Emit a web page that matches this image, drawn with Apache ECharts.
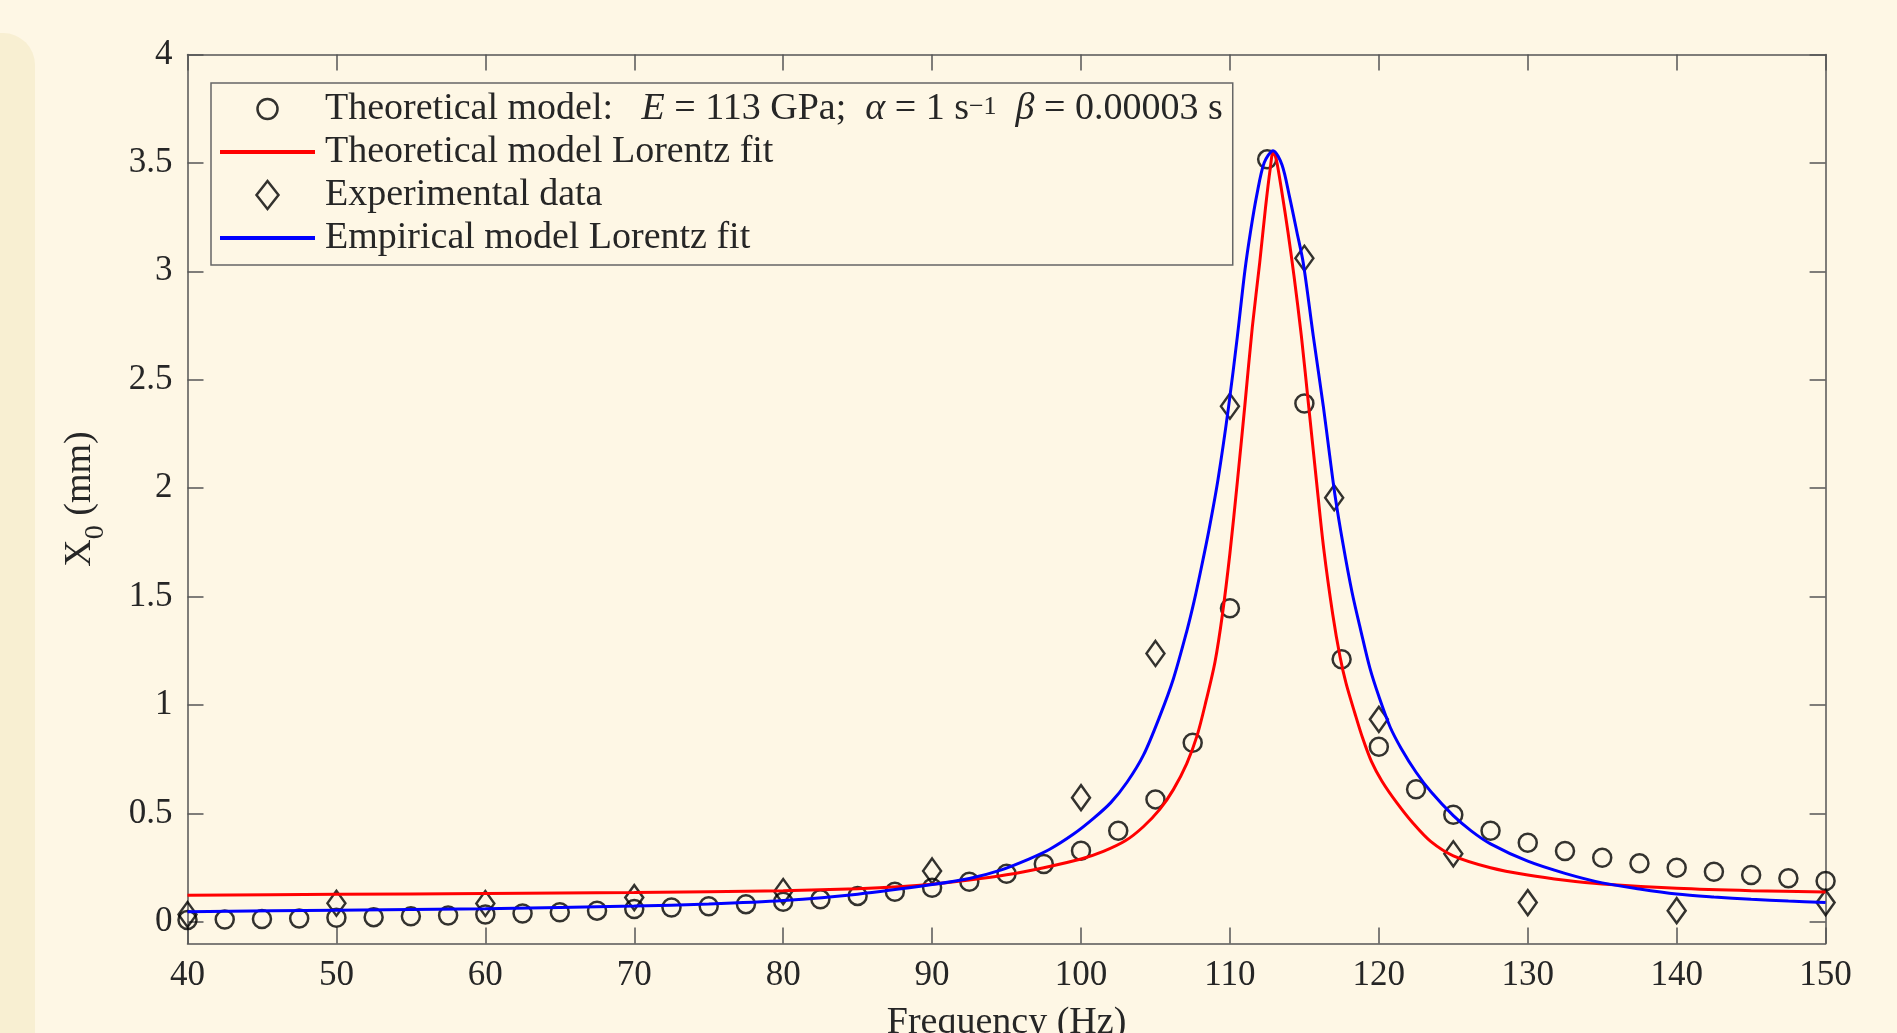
<!DOCTYPE html>
<html>
<head>
<meta charset="utf-8">
<script src="https://cdn.jsdelivr.net/npm/echarts@6/dist/echarts.min.js"></script>
<style>
html,body{margin:0;padding:0;background:#FEF7E5;}
#chart{width:1897px;height:1033px;}
</style>
</head>
<body>
<div id="chart"></div>
<script>
// ---- data ----
const xTicks = [40, 50, 60, 70, 80, 90, 100, 110, 120, 130, 140, 150];
const yTicks = [0, 0.5, 1, 1.5, 2, 2.5, 3, 3.5, 4];

const theoFreq = [40, 42.5, 45, 47.5, 50, 52.5, 55, 57.5, 60, 62.5, 65, 67.5, 70, 72.5, 75, 77.5, 80, 82.5, 85, 87.5, 90, 92.5, 95, 97.5, 100, 102.5, 105, 107.5, 110, 112.5, 115, 117.5, 120, 122.5, 125, 127.5, 130, 132.5, 135, 137.5, 140, 142.5, 145, 147.5, 150];
const theoAmp = [0.009, 0.011, 0.013, 0.016, 0.019, 0.022, 0.026, 0.03, 0.034, 0.039, 0.045, 0.052, 0.06, 0.066, 0.072, 0.082, 0.093, 0.104, 0.12, 0.139, 0.158, 0.185, 0.222, 0.267, 0.328, 0.42, 0.565, 0.826, 1.446, 3.516, 2.39, 1.211, 0.808, 0.612, 0.494, 0.42, 0.365, 0.327, 0.296, 0.27, 0.25, 0.231, 0.216, 0.201, 0.189];

const expFreq = [40, 50, 60, 70, 80, 90, 100, 105, 110, 115, 117, 120, 125, 130, 140, 150];
const expAmp = [0.034, 0.086, 0.085, 0.112, 0.14, 0.235, 0.573, 1.238, 2.378, 3.06, 1.956, 0.934, 0.314, 0.089, 0.052, 0.089];

const theoFitFreq = [40, 50, 60, 70, 80, 85, 88, 90, 92.5, 95, 97.5, 100, 101.5, 103, 104.2, 105.3, 106.2, 107.1, 107.8, 108.4, 109, 109.5, 110, 110.5, 111, 111.5, 112, 112.4, 112.7, 112.9, 113.1, 113.5, 113.9, 114.3, 114.8, 115.3, 115.8, 116.3, 116.9, 117.4, 117.8, 118.4, 118.9, 119.5, 120.2, 121.2, 122.3, 123.5, 125, 127.5, 130, 132.5, 135, 140, 145, 150];
const theoFitAmp = [0.123, 0.127, 0.131, 0.136, 0.144, 0.153, 0.163, 0.174, 0.193, 0.217, 0.25, 0.29, 0.325, 0.375, 0.44, 0.52, 0.61, 0.73, 0.86, 1.02, 1.2, 1.42, 1.7, 2.03, 2.38, 2.74, 3.04, 3.3, 3.47, 3.55, 3.52, 3.36, 3.18, 2.98, 2.7, 2.37, 2.04, 1.72, 1.42, 1.22, 1.1, 0.96, 0.85, 0.74, 0.65, 0.55, 0.455, 0.37, 0.305, 0.25, 0.216, 0.192, 0.175, 0.155, 0.144, 0.138];

const empFitFreq = [40, 50, 60, 70, 75, 80, 85, 90, 92.5, 94.6, 96.5, 97.9, 99.5, 100.8, 102, 103.1, 104.2, 105.3, 106.2, 107.1, 107.6, 108.1, 108.6, 109.2, 109.9, 110.5, 111, 111.4, 111.8, 112.3, 112.9, 113.5, 114, 114.5, 114.93, 115.6, 116.27, 116.7, 117.05, 117.6, 118.2, 118.8, 119.4, 120, 120.75, 121.5, 122.5, 123.5, 125, 126.2, 127.5, 130, 132.5, 135, 137.5, 140, 142.5, 145, 147.5, 150];
const empFitAmp = [0.047, 0.054, 0.061, 0.073, 0.083, 0.099, 0.128, 0.172, 0.2, 0.239, 0.29, 0.335, 0.405, 0.475, 0.55, 0.645, 0.77, 0.95, 1.12, 1.34, 1.48, 1.64, 1.81, 2.04, 2.37, 2.7, 3.0, 3.19, 3.35, 3.5, 3.556, 3.49, 3.344, 3.18, 3.036, 2.7, 2.378, 2.15, 1.97, 1.74, 1.52, 1.34, 1.17, 1.04, 0.9, 0.8, 0.69, 0.6, 0.49, 0.42, 0.36, 0.28, 0.224, 0.18, 0.152, 0.129, 0.115, 0.104, 0.096, 0.089];

const seriesNames = [
  'Theoretical model: E = 113 GPa; α = 1 s^-1 β = 0.00003 s',
  'Theoretical model Lorentz fit',
  'Experimental data',
  'Empirical model Lorentz fit'
];
const xName = 'Frequency (Hz)';

// ---- chart ----
const FONT = "'Liberation Serif','DejaVu Serif',serif";
const TXT = '#262626';
const AX = '#555555';
const zip = (a, b) => a.map((v, i) => [v, b[i]]);

const chart = echarts.init(document.getElementById('chart'), null, {renderer: 'canvas'});

const tickInside = {show: true, inside: true, length: 16, lineStyle: {color: AX, width: 1.5}};
const axLine = {show: true, onZero: false, lineStyle: {color: AX, width: 1.5}};
const lineIcon = 'path://M0,-15 M0,15 M0,-2 L95,-2 L95,2 L0,2 Z';

chart.setOption({
  animation: false,
  backgroundColor: '#FEF7E5',
  graphic: [{
    type: 'rect', left: -40, top: 33, z: -10,
    shape: {width: 75, height: 1100, r: 32},
    style: {fill: '#F8EFD2'}
  }],
  grid: {left: 187.5, right: 71.4, top: 54.4, bottom: 89.4, containLabel: false, outerBoundsMode: 'none'},
  legend: {
    orient: 'vertical', left: 211, top: 83,
    padding: [7, 10, 8, 9],
    itemGap: 5, itemWidth: 95, itemHeight: 30,
    borderColor: '#666', borderWidth: 1.5, backgroundColor: 'transparent',
    textStyle: {
      fontFamily: FONT, fontSize: 38, color: TXT, padding: [0, 0, 0, 5],
      rich: {
        n: {fontFamily: FONT, fontSize: 38, color: TXT, lineHeight: 30},
        i: {fontFamily: FONT, fontSize: 38, color: TXT, lineHeight: 30, fontStyle: 'italic'},
        sup: {fontFamily: FONT, fontSize: 26, color: TXT, lineHeight: 14, verticalAlign: 'top'}
      }
    },
    formatter: function (name) {
      if (name === seriesNames[0]) {
        return '{n|Theoretical model:   }{i|E}{n| = 113 GPa;  }{i|α}{n| = 1 s}{sup|−1}{n|  }{i|β}{n| = 0.00003 s}';
      }
      return name;
    },
    data: [
      {name: seriesNames[0], icon: 'path://M0,-15 M0,15 M10,0 A10,10,0,1,1,-10,0 A10,10,0,1,1,10,0 Z',
       itemStyle: {color: 'rgba(0,0,0,0)', borderColor: '#000', borderWidth: 2.5}},
      {name: seriesNames[1], icon: lineIcon, itemStyle: {color: '#ff0000', borderWidth: 0}},
      {name: seriesNames[2], icon: 'path://M0,-15 M0,15 M0,-14 L11,0 L0,14 L-11,0 Z',
       itemStyle: {color: 'rgba(0,0,0,0)', borderColor: '#000', borderWidth: 2.5}},
      {name: seriesNames[3], icon: lineIcon, itemStyle: {color: '#0000ff', borderWidth: 0}}
    ]
  },
  xAxis: [{
    type: 'value', position: 'bottom', min: 40, max: 150, interval: 10,
    name: xName, nameLocation: 'middle', nameGap: 60,
    nameTextStyle: {fontFamily: FONT, fontSize: 38, color: TXT},
    axisLine: axLine, axisTick: tickInside, splitLine: {show: false},
    axisLabel: {fontFamily: FONT, fontSize: 35, color: TXT, margin: 15,
      customValues: xTicks}
  }, {
    type: 'value', position: 'top', min: 40, max: 150, interval: 10,
    axisLine: axLine, axisTick: tickInside, splitLine: {show: false},
    axisLabel: {show: false}
  }],
  yAxis: [{
    type: 'value', position: 'left', min: -0.1, max: 4,
    name: '{n|X}{sub|0}{n| (mm)}', nameLocation: 'middle', nameGap: 78,
    nameTextStyle: {
      fontFamily: FONT, fontSize: 38, color: TXT,
      rich: {
        n: {fontFamily: FONT, fontSize: 38, color: TXT, lineHeight: 40, padding: [0, 0, 10, 0], verticalAlign: 'bottom'},
        sub: {fontFamily: FONT, fontSize: 28, color: TXT, lineHeight: 12, verticalAlign: 'bottom'}
      }
    },
    axisLine: axLine,
    axisTick: Object.assign({}, tickInside, {customValues: yTicks}),
    splitLine: {show: false},
    axisLabel: {fontFamily: FONT, fontSize: 35, color: TXT, margin: 15, customValues: yTicks}
  }, {
    type: 'value', position: 'right', min: -0.1, max: 4,
    axisLine: axLine,
    axisTick: Object.assign({}, tickInside, {customValues: yTicks}),
    splitLine: {show: false},
    axisLabel: {show: false, customValues: yTicks}
  }],
  series: [{
    name: seriesNames[0], type: 'scatter', xAxisIndex: 0, yAxisIndex: 0,
    symbol: 'circle', symbolSize: 18, clip: false,
    itemStyle: {color: 'rgba(0,0,0,0)', borderColor: '#000', borderWidth: 2.5},
    data: zip(theoFreq, theoAmp)
  }, {
    name: seriesNames[1], type: 'line', xAxisIndex: 0, yAxisIndex: 0,
    symbol: 'none', showSymbol: false, smooth: 0.3,
    color: '#ff0000', lineStyle: {color: '#ff0000', width: 3},
    data: zip(theoFitFreq, theoFitAmp)
  }, {
    name: seriesNames[2], type: 'scatter', xAxisIndex: 0, yAxisIndex: 0,
    symbol: 'diamond', symbolSize: [18, 25], clip: false,
    itemStyle: {color: 'rgba(0,0,0,0)', borderColor: '#000', borderWidth: 2.5},
    data: zip(expFreq, expAmp)
  }, {
    name: seriesNames[3], type: 'line', xAxisIndex: 0, yAxisIndex: 0,
    symbol: 'none', showSymbol: false, smooth: 0.3,
    color: '#0000ff', lineStyle: {color: '#0000ff', width: 3},
    data: zip(empFitFreq, empFitAmp)
  }]
});
</script>
</body>
</html>
